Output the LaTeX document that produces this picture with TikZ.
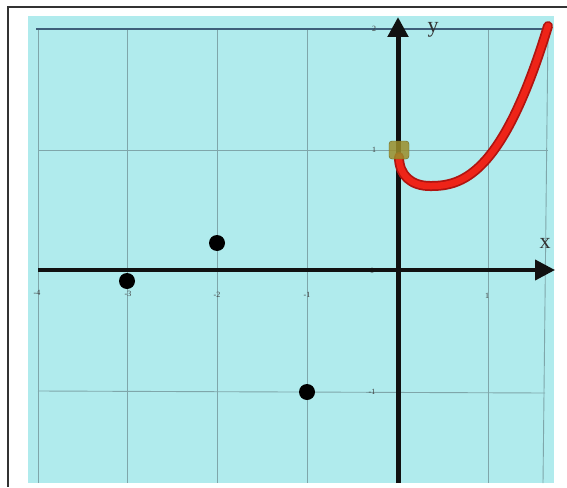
\documentclass[tikz,border=0pt]{standalone}
\usepackage{fontspec}
\setmainfont{Liberation Serif}
\usetikzlibrary{arrows.meta}
\definecolor{bgcyan}{HTML}{B0EBED}
\definecolor{gridc}{HTML}{7FA6AA}
\definecolor{topgrid}{HTML}{3F5F7A}
\definecolor{axisc}{HTML}{111111}
\definecolor{curvedark}{HTML}{B01410}
\definecolor{curvec}{HTML}{EE2418}
\definecolor{goldc}{HTML}{9C8E2A}
\begin{document}
\begin{tikzpicture}[x=1pt,y=-1pt,
  gridline/.style={gridc, line width=0.9pt},
  axisline/.style={axisc, line width=4pt, -{Triangle[length=20pt,width=20pt]}},
  dot/.style={circle, fill=black, inner sep=0pt, minimum size=16pt},
  ticklab/.style={font=\fontsize{8}{8}\selectfont, text=black!75, inner sep=0pt},
  axlab/.style={font=\fontsize{22}{22}\selectfont, text=black!80, inner sep=0pt},
  curvepath/.style={line cap=round, line join=round}]
\useasboundingbox (0,0) rectangle (567,487);
\fill[white] (0,0) rectangle (567,487);
% frame
\draw[black!80, line width=1.5pt] (567,7) -- (8,7) -- (8,487);
% background
\fill[bgcyan] (28,16) rectangle (554,483);
% grid
\foreach \gx in {38,127,217,307,488}
  \draw[gridline] (\gx,29) -- (\gx,483);
\draw[gridline] (548,29) -- (543,483);
\draw[gridline] (38,150) -- (548,150);
\draw[gridline] (38,391) -- (545,393);
\draw[topgrid, line width=1.6pt] (36,29) -- (550,29);
% tick labels
\node[ticklab] (tm4) at (37,293) {-4};
\node[ticklab] (tm3) at (128,294) {-3};
\node[ticklab] (tm2) at (217,295) {-2};
\node[ticklab] (tm1) at (307,295) {-1};
\node[ticklab] (tp1) at (487,296) {1};
\node[ticklab] (t0) at (372,271) {0};
\node[ticklab] (ty2) at (374,29) {2};
\node[ticklab] (ty1) at (374,150) {1};
\node[ticklab] (tym1) at (372,392) {-1};
% axes
\coordinate (xs) at (38,270);
\coordinate (xe) at (555,270);
\coordinate (ys) at (398,483);
\coordinate (ye) at (398,17);
\draw[axisline] (xs) -- (xe);
\draw[axisline, line width=5pt] (ys) -- (ye);
\node[axlab] (xl) at (545,243) {x};
\node[axlab] (yl) at (433,30) {y};
% curve
\coordinate (cstart) at (399,157);
\coordinate (cmin) at (430,186);
\def\curvepath{(cstart) .. controls (399,175) and (411,186) .. (cmin)
   -- plot[domain=430:548, samples=50] (\x, {186 - 160*((\x-430)/118)^2.43})}
\draw[curvepath, curvedark, line width=10pt] \curvepath;
\draw[curvepath, curvec, line width=6.5pt] \curvepath;
% gold marker
\node[draw=goldc!70!black, fill=goldc, fill opacity=0.85, rounded corners=3pt,
      minimum width=20pt, minimum height=18pt, inner sep=0pt] (gold) at (399,150) {};
% points
\node[dot] (p1) at (127,281) {};
\node[dot] (p2) at (217,243) {};
\node[dot] (p3) at (307,392) {};
\end{tikzpicture}
\end{document}
